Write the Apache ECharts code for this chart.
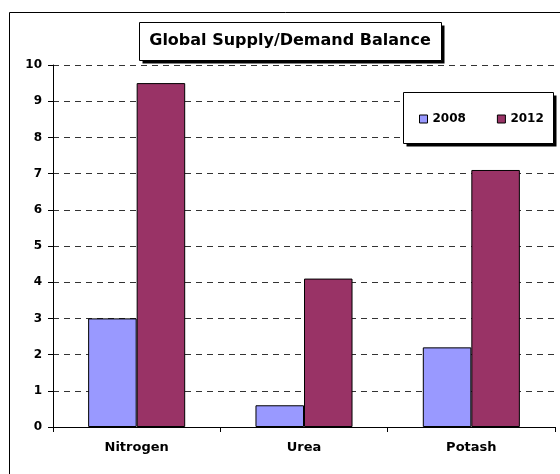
<!DOCTYPE html>
<html>
<head>
<meta charset="utf-8">
<script src="https://cdn.jsdelivr.net/npm/echarts@6/dist/echarts.min.js"></script>
<style>
  html, body { margin: 0; padding: 0; background: #fff; }
  #main { width: 560px; height: 474px; }
</style>
</head>
<body>
<div id="main"></div>
<script>
// data
var categories = ['Nitrogen', 'Urea', 'Potash'];
var years = ['2008', '2012'];
var values2008 = [3.0, 0.6, 2.2];
var values2012 = [9.5, 4.1, 7.1];
var yTicks = [0, 10, 1]; // min, max, step

var font = '"DejaVu Sans", Verdana, sans-serif';

// box with a hard black drop shadow (Excel style)
function shadowBox(x, y, w, h) {
    return [
        { type: 'rect', z: 3, shape: { x: x + 3, y: y + 3, width: w, height: h }, style: { fill: '#000' } },
        { type: 'rect', z: 4, shape: { x: x, y: y, width: w, height: h }, style: { fill: '#fff', stroke: '#000', lineWidth: 1 } }
    ];
}

var myChart = echarts.init(document.getElementById('main'));

var option = {
    animation: false,
    backgroundColor: '#fff',
    title: {
        text: 'Global Supply/Demand Balance',
        left: 290,
        top: 33,
        padding: 0,
        z: 10,
        textAlign: 'center',
        textStyle: { fontFamily: font, fontSize: 16, fontWeight: 'bold', color: '#000' }
    },
    legend: {
        data: years,
        left: 419,
        top: 113,
        padding: 0,
        z: 10,
        itemGap: 31,
        itemWidth: 8,
        itemHeight: 8,
        icon: 'rect',
        textStyle: { fontFamily: font, fontSize: 12, fontWeight: 'bold', color: '#000' },
        itemStyle: { borderColor: '#000', borderWidth: 1 }
    },
    grid: { left: 53, right: 5, top: 65, bottom: 47, containLabel: false },
    xAxis: {
        type: 'category',
        data: categories,
        axisLine: { lineStyle: { color: '#000', width: 1 } },
        axisTick: { show: true, length: 5, lineStyle: { color: '#000' } },
        axisLabel: { fontFamily: font, fontSize: 13, fontWeight: 'bold', color: '#000', margin: 14 }
    },
    yAxis: {
        type: 'value',
        min: yTicks[0],
        max: yTicks[1],
        interval: yTicks[2],
        axisLine: { show: true, lineStyle: { color: '#000', width: 1 } },
        axisTick: { show: true, length: 5, lineStyle: { color: '#000' } },
        axisLabel: { fontFamily: font, fontSize: 12, fontWeight: 'bold', color: '#000', margin: 11 },
        splitLine: { show: true, lineStyle: { color: '#333', type: [6, 5], width: 1 } }
    },
    graphic: [
        {   // outer chart frame
            type: 'rect',
            z: -1,
            shape: { x: 9.5, y: 12.5, width: 600, height: 500 },
            style: { fill: 'none', stroke: '#000', lineWidth: 1 }
        }
    ].concat(shadowBox(139.5, 22.5, 302, 38), shadowBox(403.5, 92.5, 150, 51)),
    series: [
        {
            name: years[0],
            type: 'bar',
            data: values2008,
            barGap: '0%',
            barCategoryGap: '42%',
            itemStyle: { color: '#9999FF', borderColor: '#000', borderWidth: 1 }
        },
        {
            name: years[1],
            type: 'bar',
            data: values2012,
            barGap: '0%',
            barCategoryGap: '42%',
            itemStyle: { color: '#993366', borderColor: '#000', borderWidth: 1 }
        }
    ]
};

myChart.setOption(option);
</script>
</body>
</html>
